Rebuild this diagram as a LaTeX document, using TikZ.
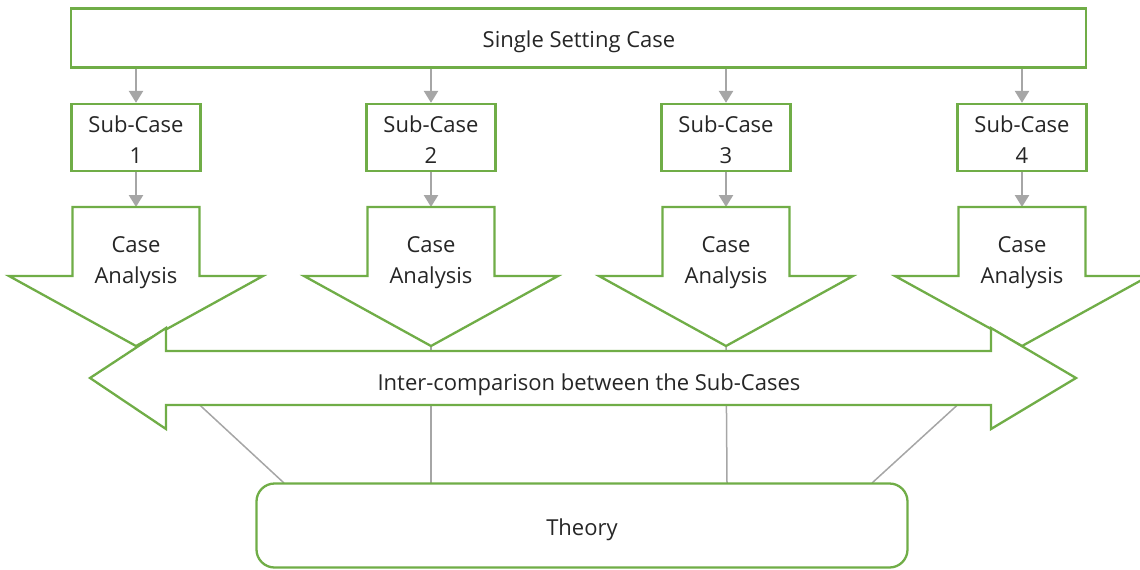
\documentclass[tikz,border=0pt]{standalone}
\usepackage{fontspec}
\setmainfont{Open Sans}
\usetikzlibrary{arrows.meta,calc}
\definecolor{grn}{RGB}{112,173,71}
\definecolor{gry}{RGB}{166,166,166}
\definecolor{txt}{RGB}{38,38,38}
\begin{document}
\begin{tikzpicture}[x=1pt,y=-1pt,
  box/.style={draw=grn,line width=2.3pt,fill=white,inner sep=0pt},
  lbl/.style={text=txt,font=\fontsize{22}{31}\selectfont,align=center,inner sep=0pt},
  conn/.style={draw=gry,line width=2.5pt,-{Triangle[width=14pt,length=12pt]}},
  link/.style={draw=gry,line width=1.5pt},
  shapeline/.style={draw=grn,line width=2.3pt,fill=white,line join=miter}]
\useasboundingbox (0,0) rectangle (1140,570);

% top box
\node[box,minimum width=1015pt,minimum height=59pt] (top) at (578.5,38) {};
\node[lbl] (toptxt) at (579,42) {Single Setting Case};

% theory link targets
\coordinate (t1) at (284,483);
\coordinate (t2) at (431,483);
\coordinate (t3) at (727,483);
\coordinate (t4) at (872,483);

\foreach \i/\x in {1/136,2/431,3/726,4/1022}{
  \node[box,minimum width=129pt,minimum height=67pt] (sc\i) at (\x,137.5) {};
  \node[lbl] (sctxt\i) at (\x,140) {Sub-Case\\\i};
  \coordinate (dtop\i) at (\x,207);
  \coordinate (tip\i) at (\x,346);
  \draw[conn] (sc\i.north |- top.south) -- (sc\i.north);
  \draw[conn] (sc\i.south) -- (dtop\i);
  \draw[link] (tip\i) -- (t\i);
  \draw[shapeline] ({\x-63.5},207) -- ({\x+63.5},207) -- ({\x+63.5},276) -- ({\x+127},276)
     -- (tip\i) -- ({\x-127},276) -- ({\x-63.5},276) -- cycle;
  \node[lbl] (ca\i) at (\x,263) {Case\\Analysis};
}

% double arrow
\draw[shapeline] (90,378) -- (166,328) -- (166,351) -- (991,351) -- (991,328) -- (1076,378)
   -- (991,429) -- (991,405) -- (166,405) -- (166,429) -- cycle;
\node[lbl] (cmp) at (589,385) {Inter-comparison between the Sub-Cases};

% theory
\node[box,rounded corners=18pt,minimum width=651pt,minimum height=84pt] (th) at (582,525.5) {};
\node[lbl] (thtxt) at (582,530) {Theory};
\end{tikzpicture}
\end{document}
